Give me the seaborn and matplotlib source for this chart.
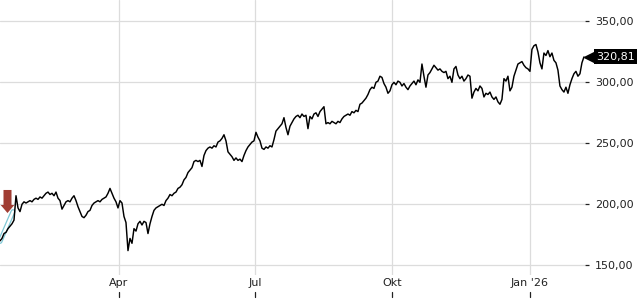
import matplotlib
matplotlib.use("Agg")
import matplotlib.pyplot as plt
import matplotlib.transforms as mtransforms
from matplotlib.path import Path
import numpy as np
import pandas as pd
import seaborn as sns

# ---------------- data ----------------
start = "2025-01-11 10:00"
end = "2026-02-06 02:00"
closes = [
    170, 172, 176, 177, 180, 182, 184, 187, 207, 197, 194, 200, 202, 201, 202, 203,
    202, 204, 205, 204, 206, 205, 207, 209, 210, 208, 209, 207, 210, 205, 203, 196,
    199, 202, 203, 202, 205, 207, 203, 198, 194, 190, 189, 191, 194, 195, 199, 201,
    202, 203, 202, 204, 205, 206, 209, 213, 209, 205, 202, 197, 203, 201, 190, 185,
    162, 172, 168, 180, 178, 184, 186, 183, 186, 185, 176, 184, 190, 195, 197, 198,
    199, 200, 199, 203, 205, 208, 207, 209, 210, 213, 214, 216, 220, 222, 226, 228,
    230, 235, 236, 235, 236, 231, 240, 244, 246, 247, 246, 248, 247, 251, 252, 254,
    257, 252, 243, 241, 239, 236, 238, 236, 237, 235, 240, 244, 247, 249, 251, 252,
    259, 255, 252, 246, 245, 247, 246, 248, 247, 253, 260, 262, 264, 266, 271, 263,
    257, 264, 267, 270, 272, 273, 271, 274, 272, 273, 262, 272, 270, 274, 275, 272,
    276, 278, 280, 266, 267, 266, 268, 267, 266, 268, 267, 270, 272, 273, 274, 273,
    276, 275, 277, 276, 282, 283, 285, 287, 290, 294, 296, 295, 300, 301, 305, 304,
    299, 296, 291, 293, 298, 300, 298, 301, 300, 297, 299, 296, 294, 297, 299, 301,
    298, 302, 300, 315, 305, 296, 306, 308, 311, 314, 312, 310, 311, 309, 308, 309,
    303, 305, 300, 311, 313, 306, 303, 305, 301, 303, 306, 305, 287, 292, 295, 293,
    297, 295, 288, 291, 290, 292, 288, 286, 288, 284, 282, 286, 303, 301, 305, 293,
    296, 305, 310, 315, 316, 317, 314, 312, 311, 309, 327, 330, 331, 325, 316, 311,
    324, 322, 326, 321, 324, 318, 316, 310, 297, 294, 292, 296, 291, 298, 303, 307,
    309, 305, 307, 316, 320.81,
]
last_label = "320,81"

tick_dates = ["2025-04-01", "2025-07-01", "2025-10-01", "2026-01-01"]
tick_labels = ["Apr", "Jul", "Okt", "Jan '26"]
y_ticks = [150, 200, 250, 300, 350]
y_tick_labels = ["150,00", "200,00", "250,00", "300,00", "350,00"]

trend_dates = ["2025-01-11 10:00", "2025-01-20 03:00"]
trend_values = [169.5, 194.0]

signal_date = "2025-01-16 00:00"
signal_price = 202.3

x_range = ["2025-01-11 10:00", "2026-02-06 19:00"]
y_range = [142.0, 367.5]

# ---------------- figure ----------------
sns.set_theme(style="white")
plt.rcParams["font.family"] = ["DejaVu Sans"]

dates = pd.date_range(start, end, periods=len(closes))
df = pd.DataFrame({"date": dates, "close": closes})
trend_df = pd.DataFrame({"date": pd.to_datetime(trend_dates), "v": trend_values})

fig = plt.figure(figsize=(6.4, 3.0), dpi=100)
ax = fig.add_axes([0, 25 / 300, 585 / 640, 275 / 300])
ax.set_facecolor("white")

# grid
for t in pd.to_datetime(tick_dates):
    ax.axvline(t, color="#dcdcdc", lw=0.9, zorder=0)
for yv in y_ticks:
    ax.axhline(yv, color="#dcdcdc", lw=0.9, zorder=0)

# trend highlight (cyan double line)
sns.lineplot(data=trend_df, x="date", y="v", ax=ax, color="#7fc8d6", lw=3.6, zorder=2)
sns.lineplot(data=trend_df, x="date", y="v", ax=ax, color="white", lw=1.8, zorder=2.5)

# price line
sns.lineplot(data=df, x="date", y="close", ax=ax, color="black", lw=1.05, zorder=3)

# signal arrow (down)
arrow_verts = [(-4.0, 11.5), (4.0, 11.5), (4.0, -3.5), (6.8, -3.5), (0, -11.5),
               (-6.8, -3.5), (-4.0, -3.5), (-4.0, 11.5)]
arrow_codes = [Path.MOVETO] + [Path.LINETO] * 6 + [Path.CLOSEPOLY]
arrow_marker = Path(arrow_verts, arrow_codes)
ax.plot([pd.Timestamp(signal_date)], [signal_price], marker=arrow_marker, ms=16.6,
        color="#a03d33", mec="none", ls="none", zorder=4, clip_on=False)

ax.set_xlim(pd.to_datetime(x_range))
ax.set_ylim(y_range)

ax.set_xticks(pd.to_datetime(tick_dates))
ax.set_xticklabels(tick_labels)
ax.set_yticks(y_ticks)
ax.set_yticklabels(y_tick_labels)
ax.yaxis.tick_right()
ax.tick_params(axis="y", which="both", length=3.2, width=0.9, color="#222222",
               pad=4.2, labelsize=8, labelcolor="#222222", right=True, left=False)
ax.tick_params(axis="x", length=0, pad=2.5, labelsize=8, labelcolor="#222222")
ax.set_xlabel("")
ax.set_ylabel("")
for s in ax.spines.values():
    s.set_visible(False)
ax.grid(False)

# small date ticks below the labels
btr = mtransforms.blended_transform_factory(ax.transData, fig.transFigure)
for t in pd.to_datetime(tick_dates):
    ax.plot([t, t], [3 / 300, 8 / 300], color="#222222", lw=0.9,
            transform=btr, clip_on=False)

# last price tag
tr = mtransforms.blended_transform_factory(fig.transFigure, ax.transData)
last = closes[-1]
ax.plot([590 / 640], [last], marker="<", ms=9, color="black", transform=tr,
        clip_on=False, zorder=5)
ax.text(596 / 640, last, last_label, transform=tr, color="white", fontsize=8,
        va="center", ha="left", clip_on=False, zorder=6,
        bbox=dict(boxstyle="square,pad=0.22", fc="black", ec="none"))

fig.savefig("out.png", dpi=100)
